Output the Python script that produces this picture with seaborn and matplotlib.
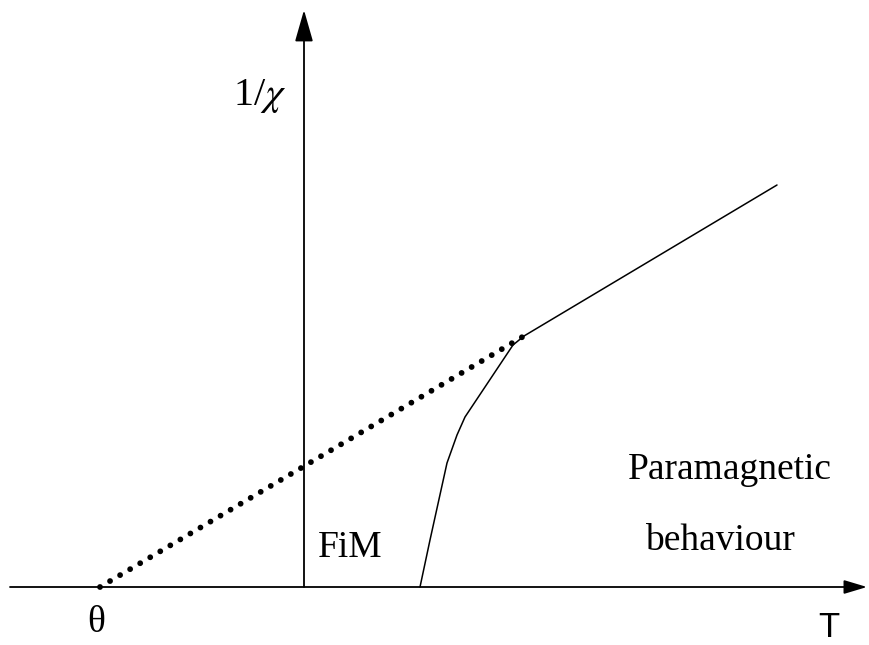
import matplotlib
matplotlib.use('Agg')
import matplotlib.pyplot as plt
import seaborn as sns

sns.set_style('white')
plt.rcParams['font.family'] = ['Liberation Serif', 'DejaVu Serif']
plt.rcParams['mathtext.fontset'] = 'stix'
plt.rcParams['text.color'] = 'black'

# sketch coordinates (origin where the axes cross)
theta_T = -204
knee_T, knee_y = 220, 251

# extrapolated Curie-Weiss line (dotted)
dot_T = [theta_T, knee_T]
dot_y = [0, knee_y]

# paramagnetic straight part
para_T = [knee_T, 473]
para_y = [knee_y, 402]

# ferrimagnetic curve coming up from T_c
fim_T = [116, 126, 143, 153, 161, 171, 209, knee_T]
fim_y = [0, 47, 124, 152, 170, 185, 242, knee_y]

fig = plt.figure(figsize=(8.69, 6.45), dpi=100)
ax = fig.add_axes([0, 0, 1, 1])

# axes drawn as arrows
ax.annotate('', xy=(563, 0), xytext=(-294, 0),
            arrowprops=dict(arrowstyle='-|>,head_length=1.0,head_width=0.3',
                            mutation_scale=14, lw=1.3, color='black',
                            shrinkA=0, shrinkB=0))
ax.annotate('', xy=(0, 577), xytext=(0, 0),
            arrowprops=dict(arrowstyle='-|>,head_length=1.4,head_width=0.4',
                            mutation_scale=14, lw=1.3, color='black',
                            shrinkA=0, shrinkB=0))

sns.lineplot(x=dot_T, y=dot_y, ax=ax, color='black', linewidth=4.2,
             linestyle=(0, (0.001, 2.0)), dash_capstyle='round',
             sort=False, estimator=None)
sns.lineplot(x=para_T, y=para_y, ax=ax, color='black', linewidth=1.1,
             sort=False, estimator=None)
sns.lineplot(x=fim_T, y=fim_y, ax=ax, color='black', linewidth=1.1,
             sort=False, estimator=None)

ax.text(-71, 482, r'1/$\chi$', fontsize=29, va='baseline', ha='left')
ax.text(-208, -45, 'θ', fontsize=27, va='baseline', ha='center')
ax.text(514, -50, 'T', fontsize=25, va='baseline', ha='left',
        family=['Liberation Sans', 'DejaVu Sans'])
ax.text(14, 30, 'FiM', fontsize=27, va='baseline', ha='left')
ax.text(324, 108, 'Paramagnetic', fontsize=27, va='baseline', ha='left')
ax.text(341, 37, 'behaviour', fontsize=27, va='baseline', ha='left')

ax.set_xlim(-304, 565)
ax.set_ylim(-58, 587)
ax.axis('off')

fig.savefig('out.png', dpi=100, facecolor='white')
